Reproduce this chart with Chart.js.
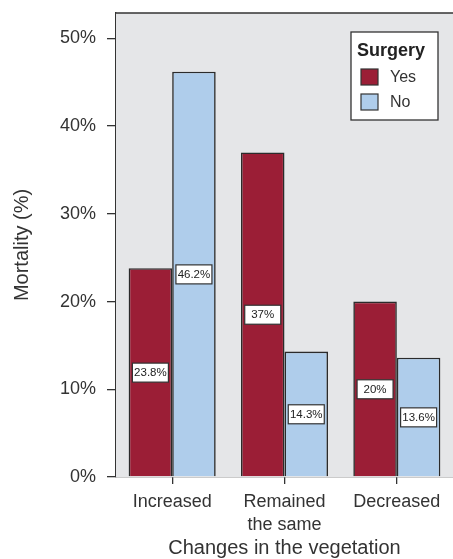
<!DOCTYPE html>
<html>
<head>
<meta charset="utf-8">
<script src="https://cdn.jsdelivr.net/npm/chart.js@4/dist/chart.umd.min.js"></script>
<style>
html,body{margin:0;padding:0;background:#fff;}
#wrap{width:453px;height:559px;position:relative;}
</style>
</head>
<body>
<div id="wrap"><canvas id="c" width="453" height="559"></canvas></div>
<script>
const categories = [["Increased"], ["Remained", "the same"], ["Decreased"]];
const surgeryYes = [23.8, 37, 20];
const surgeryNo = [46.2, 14.3, 13.6];
const seriesNames = ["Yes", "No"];
const legendTitle = "Surgery";
const yTicks = [0, 10, 20, 30, 40, 50];
const yMax = 52.9;
const yTitle = "Mortality (%)";
const xTitle = "Changes in the vegetation";

const FONT = "'Liberation Sans', Arial, Helvetica, sans-serif";
const INK = "#333333";
const RED = "#9B1E36";
const BLUE = "#AFCDEB";
const BG = "#E5E6E8";

const areaPlugin = {
  id: 'areaPlugin',
  beforeDatasetsDraw(chart) {
    const {ctx, chartArea: a} = chart;
    ctx.save();
    ctx.fillStyle = BG;
    ctx.fillRect(a.left, a.top, a.right - a.left, a.bottom - a.top);
    ctx.restore();
  },
  afterDatasetsDraw(chart) {
    const {ctx, chartArea: a} = chart;
    const yScale = chart.scales.y;
    ctx.save();
    ctx.strokeStyle = INK;
    ctx.lineWidth = 1.3;
    ctx.beginPath();
    ctx.moveTo(a.left, a.top);
    ctx.lineTo(a.right, a.top);
    ctx.stroke();
    chart.data.datasets.forEach((ds, di) => {
      const meta = chart.getDatasetMeta(di);
      meta.data.forEach((el, i) => {
        const v = ds.data[i];
        const cx = el.x;
        const cy = yScale.getPixelForValue(v / 2);
        const w = 36, h = 19;
        ctx.fillStyle = '#ffffff';
        ctx.fillRect(cx - w / 2, cy - h / 2, w, h);
        ctx.strokeStyle = INK;
        ctx.lineWidth = 1.2;
        ctx.strokeRect(cx - w / 2, cy - h / 2, w, h);
        ctx.fillStyle = '#222';
        ctx.font = "11.5px " + FONT;
        ctx.textAlign = 'center';
        ctx.textBaseline = 'middle';
        ctx.fillText(v + '%', cx, cy + 0.5);
      });
    });
    const lx = 351, ly = 32, lw = 87, lh = 88;
    ctx.fillStyle = '#ffffff';
    ctx.fillRect(lx, ly, lw, lh);
    ctx.strokeStyle = INK;
    ctx.lineWidth = 1.3;
    ctx.strokeRect(lx, ly, lw, lh);
    ctx.fillStyle = '#222';
    ctx.font = "bold 18px " + FONT;
    ctx.textAlign = 'left';
    ctx.textBaseline = 'alphabetic';
    ctx.fillText(legendTitle, lx + 6, ly + 24);
    const colors = [RED, BLUE];
    chart.data.datasets.forEach((ds, di) => {
      const sy = ly + 37 + di * 25;
      ctx.fillStyle = colors[di];
      ctx.fillRect(lx + 10, sy, 17, 16);
      ctx.strokeStyle = INK;
      ctx.lineWidth = 1.2;
      ctx.strokeRect(lx + 10, sy, 17, 16);
      ctx.fillStyle = '#333';
      ctx.font = "16px " + FONT;
      ctx.textBaseline = 'middle';
      ctx.fillText(ds.label, lx + 39, sy + 8.5);
    });
    ctx.restore();
  }
};

new Chart(document.getElementById('c'), {
  type: 'bar',
  data: {
    labels: categories,
    datasets: [
      {label: seriesNames[0], data: surgeryYes, backgroundColor: RED, borderColor: '#2b2b2b', borderWidth: 1.6, borderSkipped: 'bottom'},
      {label: seriesNames[1], data: surgeryNo, backgroundColor: BLUE, borderColor: '#2b2b2b', borderWidth: 1.6, borderSkipped: 'bottom'}
    ]
  },
  options: {
    responsive: false,
    animation: false,
    devicePixelRatio: 1,
    layout: {padding: {top: 13, left: 0, right: 0, bottom: 0}},
    plugins: {legend: {display: false}, tooltip: {enabled: false}},
    datasets: {bar: {categoryPercentage: 0.775, barPercentage: 1}},
    scales: {
      x: {
        offset: true,
        grid: {display: true, offset: false, drawOnChartArea: false, tickLength: 7, color: INK, lineWidth: 1.3},
        border: {display: true, color: INK, width: 1.3},
        ticks: {color: INK, font: {family: FONT, size: 18, lineHeight: 1.3}, padding: 6, maxRotation: 0, autoSkip: false},
        title: {display: true, text: xTitle, color: INK, font: {family: FONT, size: 20, lineHeight: 1}, padding: {top: 0, bottom: 1}},
        afterFit(scale) { scale.height = 82; scale.paddingLeft = 0; scale.paddingRight = 0; }
      },
      y: {
        min: 0, max: yMax,
        afterBuildTicks(scale) { scale.ticks = yTicks.map(v => ({value: v})); },
        grid: {display: true, drawOnChartArea: false, tickLength: 9, color: INK, lineWidth: 1.3},
        border: {display: true, color: INK, width: 1.3},
        ticks: {color: INK, font: {family: FONT, size: 18}, padding: 11, callback: v => v + '%'},
        title: {display: true, text: yTitle, color: INK, font: {family: FONT, size: 20, lineHeight: 1.2}, padding: {top: 10, bottom: 0}},
        afterFit(scale) { scale.width = 116; scale.paddingTop = 0; scale.paddingBottom = 0; }
      }
    }
  },
  plugins: [areaPlugin]
});
</script>
</body>
</html>
